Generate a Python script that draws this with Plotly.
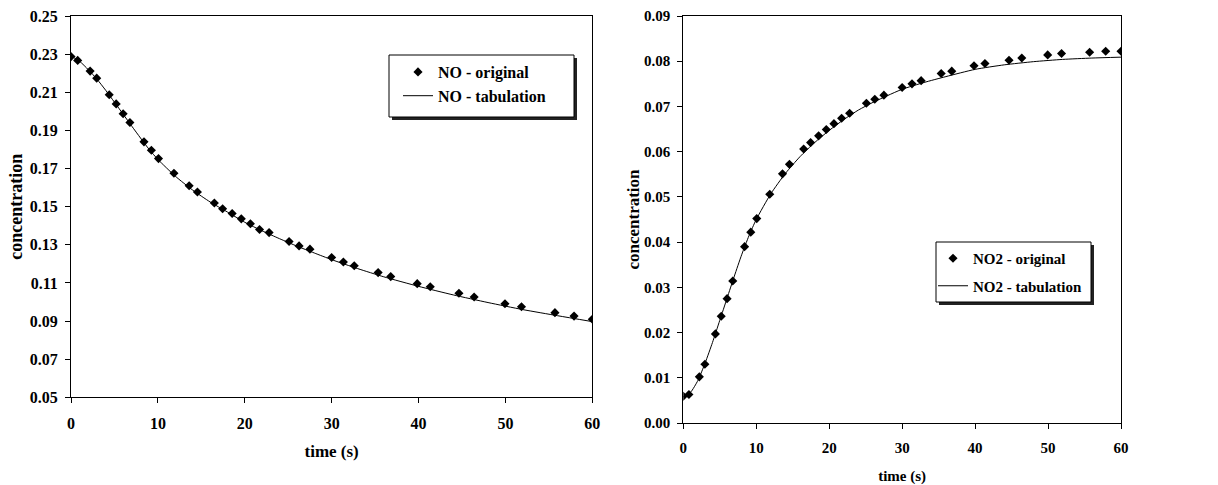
import plotly.graph_objects as go

# ---- data ----
time_orig = [0, 0.77, 2.2, 2.96, 4.4, 5.2, 6.0, 6.78, 8.4, 9.25, 10.07, 11.85,
             13.6, 14.55, 16.5, 17.45, 18.55, 19.6, 20.65, 21.7, 22.8, 25.1,
             26.25, 27.5, 30.0, 31.35, 32.6, 35.35, 36.8, 39.85, 41.35, 44.65,
             46.4, 49.95, 51.85, 55.7, 57.9, 60.0]

no_orig = [0.2287, 0.2267, 0.2211, 0.2174, 0.2087, 0.2039, 0.1987, 0.1941,
           0.1840, 0.1796, 0.1752, 0.1675, 0.1610, 0.1577, 0.1519, 0.1489,
           0.1464, 0.1436, 0.1410, 0.1380, 0.1364, 0.1317, 0.1294, 0.1277,
           0.1233, 0.1210, 0.1190, 0.1154, 0.1133, 0.1096, 0.1080, 0.1046,
           0.1026, 0.0991, 0.0975, 0.0944, 0.0926, 0.0909]

no2_orig = [0.0059, 0.0063, 0.0102, 0.0130, 0.0197, 0.0236, 0.0275, 0.0314,
            0.0390, 0.0422, 0.0452, 0.0506, 0.0551, 0.0572, 0.0606, 0.0620,
            0.0635, 0.0649, 0.0662, 0.0674, 0.0685, 0.0707, 0.0716, 0.0725,
            0.0742, 0.0750, 0.0757, 0.0773, 0.0778, 0.0790, 0.0795, 0.0802,
            0.0807, 0.0814, 0.0817, 0.0820, 0.0822, 0.0822]

time_tab = [0, 1, 2, 3, 4, 5, 6, 7, 8, 9, 10, 12, 14, 16, 18, 20, 22, 24, 26,
            28, 30, 33, 36, 40, 44, 48, 52, 56, 60]

no_tab = [0.2290, 0.2262, 0.2218, 0.2168, 0.2110, 0.2048, 0.1985, 0.1922,
          0.1860, 0.1800, 0.1748, 0.1660, 0.1587, 0.1525, 0.1472, 0.1418,
          0.1373, 0.1332, 0.1293, 0.1257, 0.1222, 0.1175, 0.1132, 0.1082,
          0.1037, 0.0997, 0.0960, 0.0928, 0.0897]

no2_tab = [0.0058, 0.0068, 0.0094, 0.0133, 0.0178, 0.0227, 0.0276, 0.0325,
           0.0372, 0.0414, 0.0450, 0.0507, 0.0552, 0.0589, 0.0620, 0.0647,
           0.0671, 0.0692, 0.0709, 0.0724, 0.0738, 0.0753, 0.0766, 0.0782,
           0.0792, 0.0799, 0.0804, 0.0807, 0.0809]

left_yticks = [0.05, 0.07, 0.09, 0.11, 0.13, 0.15, 0.17, 0.19, 0.21, 0.23, 0.25]
right_yticks = [0.00, 0.01, 0.02, 0.03, 0.04, 0.05, 0.06, 0.07, 0.08, 0.09]
xticks = [0, 10, 20, 30, 40, 50, 60]

# ---- styling ----
FONT = "Liberation Serif"


def bold(size):
    return dict(family=FONT, size=size, color="black", weight="bold")


W, H = 1218, 485
ML, MR, MT, MB = 71, 97, 16, 62
PW, PH = W - ML - MR, H - MT - MB


def px_x(p):
    return (p - ML) / PW


def px_y(p):
    return (H - MB - p) / PH


def box(x0, y0, x1, y1, fill, line_w):
    return dict(type="rect", xref="paper", yref="paper",
                x0=px_x(x0), x1=px_x(x1), y0=px_y(y1), y1=px_y(y0),
                fillcolor=fill, line=dict(width=line_w, color="black"), layer="above")


fig = go.Figure()

fig.add_trace(go.Scatter(x=time_orig, y=no_orig, mode="markers", name="NO - original",
                         marker=dict(symbol="diamond", size=7, color="black"),
                         xaxis="x", yaxis="y", legend="legend", legendgroup="a"))
fig.add_trace(go.Scatter(x=time_tab, y=no_tab, mode="lines", name="NO - tabulation",
                         line=dict(color="black", width=1, shape="spline", smoothing=0.6),
                         xaxis="x", yaxis="y", legend="legend", legendgroup="b"))
fig.add_trace(go.Scatter(x=time_orig, y=no2_orig, mode="markers", name="NO2 - original",
                         marker=dict(symbol="diamond", size=7, color="black"),
                         xaxis="x2", yaxis="y2", legend="legend2", legendgroup="c"))
fig.add_trace(go.Scatter(x=time_tab, y=no2_tab, mode="lines", name="NO2 - tabulation",
                         line=dict(color="black", width=1, shape="spline", smoothing=0.6),
                         xaxis="x2", yaxis="y2", legend="legend2", legendgroup="d"))

axis_common = dict(showline=True, linecolor="black", linewidth=1, mirror=True,
                   ticks="outside", ticklen=5, tickcolor="black", tickwidth=1,
                   showgrid=False, zeroline=False, automargin=False)

left_x1 = px_x(592.3)
right_x0 = px_x(683.3)
left_y0 = px_y(397.3)

fig.update_layout(
    width=W, height=H,
    margin=dict(l=ML, r=MR, t=MT, b=MB, autoexpand=False),
    paper_bgcolor="white", plot_bgcolor="white",
    xaxis=dict(domain=[0, left_x1], range=[0, 60], tickvals=xticks, tickfont=bold(16),
               title=dict(text="time (s)", font=bold(17), standoff=14),
               ticklabelstandoff=6, anchor="y", **axis_common),
    yaxis=dict(domain=[left_y0, 1], range=[0.05, 0.25], tickvals=left_yticks,
               tickformat=".2f", tickfont=bold(16),
               title=dict(text="concentration", font=bold(18), standoff=2),
               ticklabelstandoff=4, anchor="x", **axis_common),
    xaxis2=dict(domain=[right_x0, 1], range=[0, 60], tickvals=xticks, tickfont=bold(15),
                title=dict(text="time (s)", font=bold(15), standoff=15),
                ticklabelstandoff=6, anchor="y2", **axis_common),
    yaxis2=dict(domain=[0, 1], range=[0, 0.09], tickvals=right_yticks,
                tickformat=".2f", tickfont=bold(15),
                title=dict(text="concentration", font=bold(17), standoff=0),
                ticklabelstandoff=4, anchor="x2", **axis_common),
    legend=dict(x=px_x(398), y=px_y(55), xanchor="left", yanchor="top",
                bgcolor="rgba(0,0,0,0)", borderwidth=0,
                font=bold(16), tracegroupgap=0, itemwidth=30),
    legend2=dict(x=px_x(933), y=px_y(242), xanchor="left", yanchor="top",
                 bgcolor="rgba(0,0,0,0)", borderwidth=0,
                 font=bold(15), tracegroupgap=5, itemwidth=30),
    shapes=[
        box(392, 58, 577, 120, "#222222", 0),
        box(389, 55, 574, 117, "white", 1),
        box(939, 245, 1094, 305, "#222222", 0),
        box(936, 242, 1091, 302, "white", 1),
    ],
    showlegend=True,
)

fig.write_html("out.html")
